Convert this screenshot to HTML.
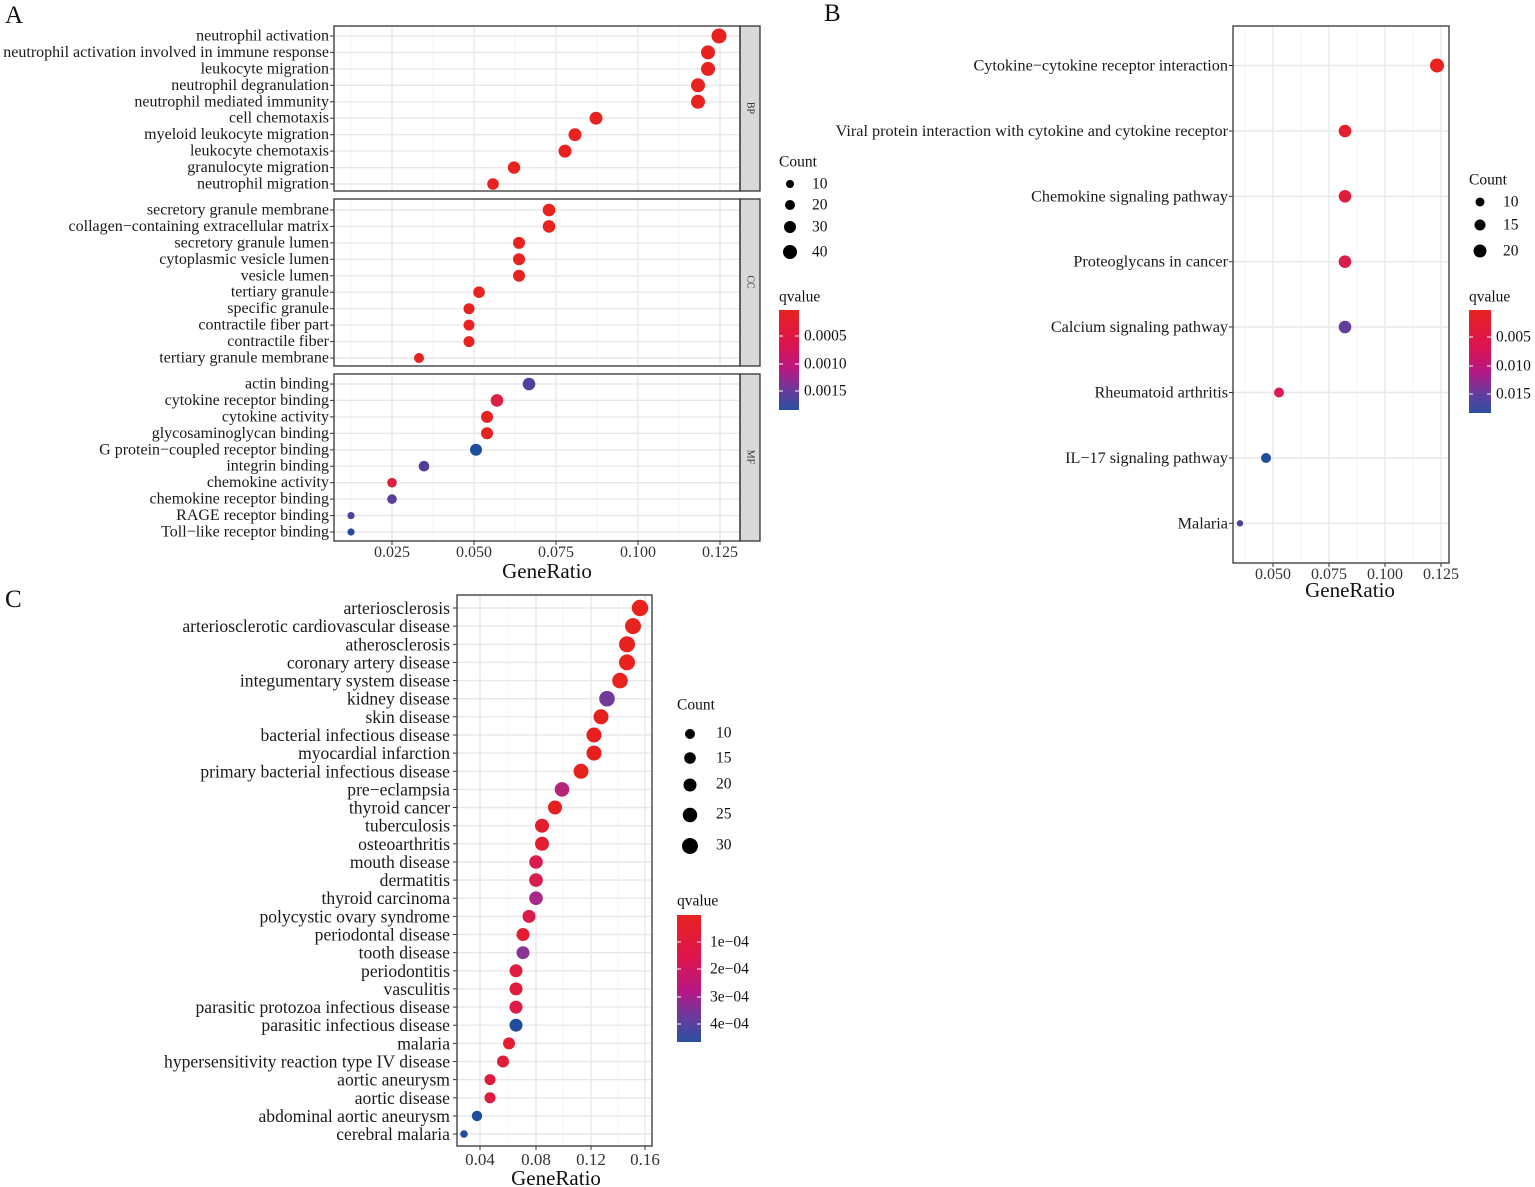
<!DOCTYPE html>
<html><head><meta charset="utf-8"><style>
html,body{margin:0;padding:0;background:#fff}
svg{display:block;font-family:"Liberation Serif","DejaVu Serif",serif}
.l{font-size:16px;text-anchor:end;dominant-baseline:central;fill:#1a1a1a}
.lb{font-size:16.2px;text-anchor:end;dominant-baseline:central;fill:#1a1a1a}
.lc{font-size:17.6px;text-anchor:end;dominant-baseline:central;fill:#1a1a1a}
.t{font-size:16px;text-anchor:middle;fill:#333}
.ti{font-size:21px;text-anchor:middle;fill:#111}
.lg{font-size:15.5px;fill:#111;dominant-baseline:central}
.pn{font-size:25px;fill:#111}
.gM{stroke:#e8e8e8;stroke-width:1.4}
.gm{stroke:#f3f3f3;stroke-width:0.8}
.bx{fill:none;stroke:#333;stroke-width:1.3}
.tk{stroke:#333;stroke-width:1}
</style></head><body>
<svg width="1535" height="1187" viewBox="0 0 1535 1187" xmlns="http://www.w3.org/2000/svg">
<defs>
<linearGradient id="qg" x1="0" y1="0" x2="0" y2="1">
<stop offset="0" stop-color="#e8221f"/><stop offset="0.35" stop-color="#dc1450"/><stop offset="0.6" stop-color="#b51884"/><stop offset="0.8" stop-color="#6a3a9c"/><stop offset="1" stop-color="#2a50a0"/>
</linearGradient>
</defs>
<text class="pn" x="5" y="23">A</text>
<text class="pn" x="824" y="21">B</text>
<text class="pn" x="5" y="607">C</text>

<!-- ========== PANEL A ========== -->
<g>
<g class="gm">
<line x1="351" y1="26" x2="351" y2="541"/><line x1="433" y1="26" x2="433" y2="541"/><line x1="515" y1="26" x2="515" y2="541"/><line x1="597" y1="26" x2="597" y2="541"/><line x1="679" y1="26" x2="679" y2="541"/>
</g>
<g class="gM">
<line x1="392" y1="26" x2="392" y2="541"/><line x1="474" y1="26" x2="474" y2="541"/><line x1="556" y1="26" x2="556" y2="541"/><line x1="638" y1="26" x2="638" y2="541"/><line x1="720" y1="26" x2="720" y2="541"/>
<line x1="334" y1="36" x2="740" y2="36"/><line x1="334" y1="52.4" x2="740" y2="52.4"/><line x1="334" y1="68.9" x2="740" y2="68.9"/><line x1="334" y1="85.3" x2="740" y2="85.3"/><line x1="334" y1="101.8" x2="740" y2="101.8"/><line x1="334" y1="118.2" x2="740" y2="118.2"/><line x1="334" y1="134.7" x2="740" y2="134.7"/><line x1="334" y1="151.1" x2="740" y2="151.1"/><line x1="334" y1="167.6" x2="740" y2="167.6"/><line x1="334" y1="184" x2="740" y2="184"/>
<line x1="334" y1="210" x2="740" y2="210"/><line x1="334" y1="226.4" x2="740" y2="226.4"/><line x1="334" y1="242.9" x2="740" y2="242.9"/><line x1="334" y1="259.3" x2="740" y2="259.3"/><line x1="334" y1="275.8" x2="740" y2="275.8"/><line x1="334" y1="292.2" x2="740" y2="292.2"/><line x1="334" y1="308.7" x2="740" y2="308.7"/><line x1="334" y1="325.1" x2="740" y2="325.1"/><line x1="334" y1="341.6" x2="740" y2="341.6"/><line x1="334" y1="358" x2="740" y2="358"/>
<line x1="334" y1="384" x2="740" y2="384"/><line x1="334" y1="400.4" x2="740" y2="400.4"/><line x1="334" y1="416.9" x2="740" y2="416.9"/><line x1="334" y1="433.3" x2="740" y2="433.3"/><line x1="334" y1="449.8" x2="740" y2="449.8"/><line x1="334" y1="466.2" x2="740" y2="466.2"/><line x1="334" y1="482.7" x2="740" y2="482.7"/><line x1="334" y1="499.1" x2="740" y2="499.1"/><line x1="334" y1="515.6" x2="740" y2="515.6"/><line x1="334" y1="532" x2="740" y2="532"/>
</g>
<rect x="334" y="191" width="426" height="8" fill="#fff"/>
<rect x="334" y="366" width="426" height="8" fill="#fff"/>
<rect x="740" y="26" width="20" height="165" fill="#d9d9d9" stroke="#333" stroke-width="1.3"/>
<rect x="740" y="199" width="20" height="167" fill="#d9d9d9" stroke="#333" stroke-width="1.3"/>
<rect x="740" y="374" width="20" height="167" fill="#d9d9d9" stroke="#333" stroke-width="1.3"/>
<text x="750" y="108" font-size="10" transform="rotate(90 750 108)" text-anchor="middle" dominant-baseline="central" fill="#333">BP</text>
<text x="750" y="282" font-size="10" transform="rotate(90 750 282)" text-anchor="middle" dominant-baseline="central" fill="#333">CC</text>
<text x="750" y="457" font-size="10" transform="rotate(90 750 457)" text-anchor="middle" dominant-baseline="central" fill="#333">MF</text>
<rect class="bx" x="334" y="26" width="406" height="165"/>
<rect class="bx" x="334" y="199" width="406" height="167"/>
<rect class="bx" x="334" y="374" width="406" height="167"/>
<g fill="#e8221f">
<circle cx="719" cy="36" r="7.5"/><circle cx="708" cy="52.4" r="7"/><circle cx="708" cy="68.9" r="7"/><circle cx="698" cy="85.3" r="7"/><circle cx="698" cy="101.8" r="7"/><circle cx="596" cy="118.2" r="6.5"/><circle cx="575" cy="134.7" r="6.5"/><circle cx="565" cy="151.1" r="6.5"/><circle cx="514" cy="167.6" r="6.2"/><circle cx="493" cy="184" r="5.8"/>
<circle cx="549" cy="210" r="6.3"/><circle cx="549" cy="226.4" r="6.3"/><circle cx="519" cy="242.9" r="6"/><circle cx="519" cy="259.3" r="6"/><circle cx="519" cy="275.8" r="6"/><circle cx="479" cy="292.2" r="5.8"/><circle cx="469" cy="308.7" r="5.5"/><circle cx="469" cy="325.1" r="5.5"/><circle cx="469" cy="341.6" r="5.5"/><circle cx="419" cy="358" r="5"/>
<circle cx="487" cy="416.9" r="6"/><circle cx="487" cy="433.3" r="6"/>
</g>
<circle cx="529" cy="384" r="6.3" fill="#523f9b"/>
<circle cx="497" cy="400.4" r="6.3" fill="#dd1f48"/>
<circle cx="476" cy="449.8" r="6" fill="#1f4d9e"/>
<circle cx="424" cy="466.2" r="5.3" fill="#523f9b"/>
<circle cx="392" cy="482.7" r="4.8" fill="#e01f40"/>
<circle cx="392" cy="499.1" r="4.8" fill="#583f9a"/>
<circle cx="351" cy="515.6" r="3.6" fill="#553f9b"/>
<circle cx="351" cy="532" r="3.6" fill="#2649a0"/>
<g class="tk">
<line x1="330" y1="36" x2="334" y2="36"/><line x1="330" y1="52.4" x2="334" y2="52.4"/><line x1="330" y1="68.9" x2="334" y2="68.9"/><line x1="330" y1="85.3" x2="334" y2="85.3"/><line x1="330" y1="101.8" x2="334" y2="101.8"/><line x1="330" y1="118.2" x2="334" y2="118.2"/><line x1="330" y1="134.7" x2="334" y2="134.7"/><line x1="330" y1="151.1" x2="334" y2="151.1"/><line x1="330" y1="167.6" x2="334" y2="167.6"/><line x1="330" y1="184" x2="334" y2="184"/>
<line x1="330" y1="210" x2="334" y2="210"/><line x1="330" y1="226.4" x2="334" y2="226.4"/><line x1="330" y1="242.9" x2="334" y2="242.9"/><line x1="330" y1="259.3" x2="334" y2="259.3"/><line x1="330" y1="275.8" x2="334" y2="275.8"/><line x1="330" y1="292.2" x2="334" y2="292.2"/><line x1="330" y1="308.7" x2="334" y2="308.7"/><line x1="330" y1="325.1" x2="334" y2="325.1"/><line x1="330" y1="341.6" x2="334" y2="341.6"/><line x1="330" y1="358" x2="334" y2="358"/>
<line x1="330" y1="384" x2="334" y2="384"/><line x1="330" y1="400.4" x2="334" y2="400.4"/><line x1="330" y1="416.9" x2="334" y2="416.9"/><line x1="330" y1="433.3" x2="334" y2="433.3"/><line x1="330" y1="449.8" x2="334" y2="449.8"/><line x1="330" y1="466.2" x2="334" y2="466.2"/><line x1="330" y1="482.7" x2="334" y2="482.7"/><line x1="330" y1="499.1" x2="334" y2="499.1"/><line x1="330" y1="515.6" x2="334" y2="515.6"/><line x1="330" y1="532" x2="334" y2="532"/>
<line x1="392" y1="541" x2="392" y2="545"/><line x1="474" y1="541" x2="474" y2="545"/><line x1="556" y1="541" x2="556" y2="545"/><line x1="638" y1="541" x2="638" y2="545"/><line x1="720" y1="541" x2="720" y2="545"/>
</g>
<text class="l" x="329" y="36">neutrophil activation</text>
<text class="l" x="329" y="52.4">neutrophil activation involved in immune response</text>
<text class="l" x="329" y="68.9">leukocyte migration</text>
<text class="l" x="329" y="85.3">neutrophil degranulation</text>
<text class="l" x="329" y="101.8">neutrophil mediated immunity</text>
<text class="l" x="329" y="118.2">cell chemotaxis</text>
<text class="l" x="329" y="134.7">myeloid leukocyte migration</text>
<text class="l" x="329" y="151.1">leukocyte chemotaxis</text>
<text class="l" x="329" y="167.6">granulocyte migration</text>
<text class="l" x="329" y="184">neutrophil migration</text>
<text class="l" x="329" y="210">secretory granule membrane</text>
<text class="l" x="329" y="226.4">collagen−containing extracellular matrix</text>
<text class="l" x="329" y="242.9">secretory granule lumen</text>
<text class="l" x="329" y="259.3">cytoplasmic vesicle lumen</text>
<text class="l" x="329" y="275.8">vesicle lumen</text>
<text class="l" x="329" y="292.2">tertiary granule</text>
<text class="l" x="329" y="308.7">specific granule</text>
<text class="l" x="329" y="325.1">contractile fiber part</text>
<text class="l" x="329" y="341.6">contractile fiber</text>
<text class="l" x="329" y="358">tertiary granule membrane</text>
<text class="l" x="329" y="384">actin binding</text>
<text class="l" x="329" y="400.4">cytokine receptor binding</text>
<text class="l" x="329" y="416.9">cytokine activity</text>
<text class="l" x="329" y="433.3">glycosaminoglycan binding</text>
<text class="l" x="329" y="449.8">G protein−coupled receptor binding</text>
<text class="l" x="329" y="466.2">integrin binding</text>
<text class="l" x="329" y="482.7">chemokine activity</text>
<text class="l" x="329" y="499.1">chemokine receptor binding</text>
<text class="l" x="329" y="515.6">RAGE receptor binding</text>
<text class="l" x="329" y="532">Toll−like receptor binding</text>
<text class="t" x="392" y="557">0.025</text><text class="t" x="474" y="557">0.050</text><text class="t" x="556" y="557">0.075</text><text class="t" x="638" y="557">0.100</text><text class="t" x="720" y="557">0.125</text>
<text class="ti" x="547" y="578">GeneRatio</text>
<text class="lg" x="779" y="162">Count</text>
<circle cx="790" cy="184" r="4" fill="#000"/><text class="lg" x="812" y="184">10</text>
<circle cx="790" cy="205" r="5" fill="#000"/><text class="lg" x="812" y="205">20</text>
<circle cx="790" cy="227" r="6" fill="#000"/><text class="lg" x="812" y="227">30</text>
<circle cx="790" cy="252" r="7" fill="#000"/><text class="lg" x="812" y="252">40</text>
<text class="lg" x="779" y="297">qvalue</text>
<rect x="779" y="310" width="20" height="100" fill="url(#qg)"/>
<g stroke="#fff" stroke-width="1"><line x1="779" y1="336" x2="783" y2="336"/><line x1="795" y1="336" x2="799" y2="336"/><line x1="779" y1="364" x2="783" y2="364"/><line x1="795" y1="364" x2="799" y2="364"/><line x1="779" y1="391" x2="783" y2="391"/><line x1="795" y1="391" x2="799" y2="391"/></g>
<text class="lg" x="804" y="336">0.0005</text><text class="lg" x="804" y="364">0.0010</text><text class="lg" x="804" y="391">0.0015</text>
</g>

<!-- ========== PANEL B ========== -->
<g>
<g class="gm"><line x1="1245" y1="26" x2="1245" y2="563"/><line x1="1301" y1="26" x2="1301" y2="563"/><line x1="1357" y1="26" x2="1357" y2="563"/><line x1="1413" y1="26" x2="1413" y2="563"/></g>
<g class="gM">
<line x1="1273" y1="26" x2="1273" y2="563"/><line x1="1329" y1="26" x2="1329" y2="563"/><line x1="1385" y1="26" x2="1385" y2="563"/><line x1="1441" y1="26" x2="1441" y2="563"/>
<line x1="1233" y1="65.5" x2="1449" y2="65.5"/><line x1="1233" y1="131" x2="1449" y2="131"/><line x1="1233" y1="196.3" x2="1449" y2="196.3"/><line x1="1233" y1="261.7" x2="1449" y2="261.7"/><line x1="1233" y1="327" x2="1449" y2="327"/><line x1="1233" y1="392.5" x2="1449" y2="392.5"/><line x1="1233" y1="458" x2="1449" y2="458"/><line x1="1233" y1="523.3" x2="1449" y2="523.3"/>
</g>
<rect class="bx" x="1233" y="26" width="216" height="537"/>
<circle cx="1437" cy="65.5" r="7" fill="#e8221f"/>
<circle cx="1345" cy="131" r="6.3" fill="#e41e2e"/>
<circle cx="1345" cy="196.3" r="6.3" fill="#e01c3c"/>
<circle cx="1345" cy="261.7" r="6.3" fill="#d81c4c"/>
<circle cx="1345" cy="327" r="6.3" fill="#623d9a"/>
<circle cx="1279" cy="392.5" r="5" fill="#da1c50"/>
<circle cx="1266" cy="458" r="5" fill="#1f4d9e"/>
<circle cx="1240" cy="523.3" r="3.2" fill="#553f9b"/>
<g class="tk">
<line x1="1229" y1="65.5" x2="1233" y2="65.5"/><line x1="1229" y1="131" x2="1233" y2="131"/><line x1="1229" y1="196.3" x2="1233" y2="196.3"/><line x1="1229" y1="261.7" x2="1233" y2="261.7"/><line x1="1229" y1="327" x2="1233" y2="327"/><line x1="1229" y1="392.5" x2="1233" y2="392.5"/><line x1="1229" y1="458" x2="1233" y2="458"/><line x1="1229" y1="523.3" x2="1233" y2="523.3"/>
<line x1="1273" y1="563" x2="1273" y2="567"/><line x1="1329" y1="563" x2="1329" y2="567"/><line x1="1385" y1="563" x2="1385" y2="567"/><line x1="1441" y1="563" x2="1441" y2="567"/>
</g>
<text class="lb" x="1228" y="65.5">Cytokine−cytokine receptor interaction</text>
<text class="lb" x="1228" y="131">Viral protein interaction with cytokine and cytokine receptor</text>
<text class="lb" x="1228" y="196.3">Chemokine signaling pathway</text>
<text class="lb" x="1228" y="261.7">Proteoglycans in cancer</text>
<text class="lb" x="1228" y="327">Calcium signaling pathway</text>
<text class="lb" x="1228" y="392.5">Rheumatoid arthritis</text>
<text class="lb" x="1228" y="458">IL−17 signaling pathway</text>
<text class="lb" x="1228" y="523.3">Malaria</text>
<text class="t" x="1273" y="579">0.050</text><text class="t" x="1329" y="579">0.075</text><text class="t" x="1385" y="579">0.100</text><text class="t" x="1441" y="579">0.125</text>
<text class="ti" x="1350" y="597">GeneRatio</text>
<text class="lg" x="1469" y="180">Count</text>
<circle cx="1480" cy="202" r="4.5" fill="#000"/><text class="lg" x="1503" y="202">10</text>
<circle cx="1480" cy="225" r="5.5" fill="#000"/><text class="lg" x="1503" y="225">15</text>
<circle cx="1480" cy="251" r="6.5" fill="#000"/><text class="lg" x="1503" y="251">20</text>
<text class="lg" x="1469" y="297">qvalue</text>
<rect x="1469" y="310" width="22" height="103" fill="url(#qg)"/>
<g stroke="#fff" stroke-width="1"><line x1="1469" y1="337" x2="1473" y2="337"/><line x1="1487" y1="337" x2="1491" y2="337"/><line x1="1469" y1="366" x2="1473" y2="366"/><line x1="1487" y1="366" x2="1491" y2="366"/><line x1="1469" y1="394" x2="1473" y2="394"/><line x1="1487" y1="394" x2="1491" y2="394"/></g>
<text class="lg" x="1496" y="337">0.005</text><text class="lg" x="1496" y="366">0.010</text><text class="lg" x="1496" y="394">0.015</text>
</g>

<!-- ========== PANEL C ========== -->
<g>
<g class="gm"><line x1="508" y1="595" x2="508" y2="1146"/><line x1="563" y1="595" x2="563" y2="1146"/><line x1="618" y1="595" x2="618" y2="1146"/></g>
<g class="gM">
<line x1="480" y1="595" x2="480" y2="1146"/><line x1="536" y1="595" x2="536" y2="1146"/><line x1="591" y1="595" x2="591" y2="1146"/><line x1="645" y1="595" x2="645" y2="1146"/>
<line x1="457" y1="608" x2="652" y2="608"/><line x1="457" y1="626.1" x2="652" y2="626.1"/><line x1="457" y1="644.3" x2="652" y2="644.3"/><line x1="457" y1="662.4" x2="652" y2="662.4"/><line x1="457" y1="680.6" x2="652" y2="680.6"/><line x1="457" y1="698.7" x2="652" y2="698.7"/><line x1="457" y1="716.8" x2="652" y2="716.8"/><line x1="457" y1="735" x2="652" y2="735"/><line x1="457" y1="753.1" x2="652" y2="753.1"/><line x1="457" y1="771.3" x2="652" y2="771.3"/><line x1="457" y1="789.4" x2="652" y2="789.4"/><line x1="457" y1="807.5" x2="652" y2="807.5"/><line x1="457" y1="825.7" x2="652" y2="825.7"/><line x1="457" y1="843.8" x2="652" y2="843.8"/><line x1="457" y1="862" x2="652" y2="862"/><line x1="457" y1="880.1" x2="652" y2="880.1"/><line x1="457" y1="898.2" x2="652" y2="898.2"/><line x1="457" y1="916.4" x2="652" y2="916.4"/><line x1="457" y1="934.5" x2="652" y2="934.5"/><line x1="457" y1="952.7" x2="652" y2="952.7"/><line x1="457" y1="970.8" x2="652" y2="970.8"/><line x1="457" y1="988.9" x2="652" y2="988.9"/><line x1="457" y1="1007.1" x2="652" y2="1007.1"/><line x1="457" y1="1025.2" x2="652" y2="1025.2"/><line x1="457" y1="1043.4" x2="652" y2="1043.4"/><line x1="457" y1="1061.5" x2="652" y2="1061.5"/><line x1="457" y1="1079.6" x2="652" y2="1079.6"/><line x1="457" y1="1097.8" x2="652" y2="1097.8"/><line x1="457" y1="1115.9" x2="652" y2="1115.9"/><line x1="457" y1="1134" x2="652" y2="1134"/>
</g>
<rect class="bx" x="457" y="595" width="195" height="551"/>
<circle cx="640" cy="608" r="8.2" fill="#e8221f"/>
<circle cx="633" cy="626.1" r="8" fill="#e8221f"/>
<circle cx="627" cy="644.3" r="8" fill="#e8221f"/>
<circle cx="627" cy="662.4" r="8" fill="#e8221f"/>
<circle cx="620" cy="680.6" r="7.8" fill="#e8221f"/>
<circle cx="607" cy="698.7" r="7.8" fill="#703a9a"/>
<circle cx="601" cy="716.8" r="7.5" fill="#e6201f"/>
<circle cx="594" cy="735" r="7.5" fill="#e6201f"/>
<circle cx="594" cy="753.1" r="7.5" fill="#e6201f"/>
<circle cx="581" cy="771.3" r="7.5" fill="#e8221f"/>
<circle cx="562" cy="789.4" r="7.3" fill="#b8237a"/>
<circle cx="555" cy="807.5" r="7" fill="#e6201f"/>
<circle cx="542" cy="825.7" r="7" fill="#e41e2e"/>
<circle cx="542" cy="843.8" r="7" fill="#e41e30"/>
<circle cx="536" cy="862" r="6.8" fill="#d81c50"/>
<circle cx="536" cy="880.1" r="6.8" fill="#d81c50"/>
<circle cx="536" cy="898.2" r="6.8" fill="#a62a8a"/>
<circle cx="529" cy="916.4" r="6.5" fill="#dc1c48"/>
<circle cx="523" cy="934.5" r="6.5" fill="#e41e2e"/>
<circle cx="523" cy="952.7" r="6.5" fill="#8a3496"/>
<circle cx="516" cy="970.8" r="6.5" fill="#e01c3c"/>
<circle cx="516" cy="988.9" r="6.5" fill="#e01c3c"/>
<circle cx="516" cy="1007.1" r="6.5" fill="#dc1c44"/>
<circle cx="516" cy="1025.2" r="6.5" fill="#1f4d9e"/>
<circle cx="509" cy="1043.4" r="6" fill="#e41e30"/>
<circle cx="503" cy="1061.5" r="6" fill="#e01c3c"/>
<circle cx="490" cy="1079.6" r="5.5" fill="#e01c3c"/>
<circle cx="490" cy="1097.8" r="5.5" fill="#e01c3c"/>
<circle cx="477" cy="1115.9" r="5.2" fill="#1f4d9e"/>
<circle cx="464" cy="1134" r="3.8" fill="#1f4d9e"/>
<g class="tk">
<line x1="453" y1="608" x2="457" y2="608"/><line x1="453" y1="626.1" x2="457" y2="626.1"/><line x1="453" y1="644.3" x2="457" y2="644.3"/><line x1="453" y1="662.4" x2="457" y2="662.4"/><line x1="453" y1="680.6" x2="457" y2="680.6"/><line x1="453" y1="698.7" x2="457" y2="698.7"/><line x1="453" y1="716.8" x2="457" y2="716.8"/><line x1="453" y1="735" x2="457" y2="735"/><line x1="453" y1="753.1" x2="457" y2="753.1"/><line x1="453" y1="771.3" x2="457" y2="771.3"/><line x1="453" y1="789.4" x2="457" y2="789.4"/><line x1="453" y1="807.5" x2="457" y2="807.5"/><line x1="453" y1="825.7" x2="457" y2="825.7"/><line x1="453" y1="843.8" x2="457" y2="843.8"/><line x1="453" y1="862" x2="457" y2="862"/><line x1="453" y1="880.1" x2="457" y2="880.1"/><line x1="453" y1="898.2" x2="457" y2="898.2"/><line x1="453" y1="916.4" x2="457" y2="916.4"/><line x1="453" y1="934.5" x2="457" y2="934.5"/><line x1="453" y1="952.7" x2="457" y2="952.7"/><line x1="453" y1="970.8" x2="457" y2="970.8"/><line x1="453" y1="988.9" x2="457" y2="988.9"/><line x1="453" y1="1007.1" x2="457" y2="1007.1"/><line x1="453" y1="1025.2" x2="457" y2="1025.2"/><line x1="453" y1="1043.4" x2="457" y2="1043.4"/><line x1="453" y1="1061.5" x2="457" y2="1061.5"/><line x1="453" y1="1079.6" x2="457" y2="1079.6"/><line x1="453" y1="1097.8" x2="457" y2="1097.8"/><line x1="453" y1="1115.9" x2="457" y2="1115.9"/><line x1="453" y1="1134" x2="457" y2="1134"/>
<line x1="480" y1="1146" x2="480" y2="1150"/><line x1="536" y1="1146" x2="536" y2="1150"/><line x1="591" y1="1146" x2="591" y2="1150"/><line x1="645" y1="1146" x2="645" y2="1150"/>
</g>
<text class="lc" x="450" y="608">arteriosclerosis</text>
<text class="lc" x="450" y="626.1">arteriosclerotic cardiovascular disease</text>
<text class="lc" x="450" y="644.3">atherosclerosis</text>
<text class="lc" x="450" y="662.4">coronary artery disease</text>
<text class="lc" x="450" y="680.6">integumentary system disease</text>
<text class="lc" x="450" y="698.7">kidney disease</text>
<text class="lc" x="450" y="716.8">skin disease</text>
<text class="lc" x="450" y="735">bacterial infectious disease</text>
<text class="lc" x="450" y="753.1">myocardial infarction</text>
<text class="lc" x="450" y="771.3">primary bacterial infectious disease</text>
<text class="lc" x="450" y="789.4">pre−eclampsia</text>
<text class="lc" x="450" y="807.5">thyroid cancer</text>
<text class="lc" x="450" y="825.7">tuberculosis</text>
<text class="lc" x="450" y="843.8">osteoarthritis</text>
<text class="lc" x="450" y="862">mouth disease</text>
<text class="lc" x="450" y="880.1">dermatitis</text>
<text class="lc" x="450" y="898.2">thyroid carcinoma</text>
<text class="lc" x="450" y="916.4">polycystic ovary syndrome</text>
<text class="lc" x="450" y="934.5">periodontal disease</text>
<text class="lc" x="450" y="952.7">tooth disease</text>
<text class="lc" x="450" y="970.8">periodontitis</text>
<text class="lc" x="450" y="988.9">vasculitis</text>
<text class="lc" x="450" y="1007.1">parasitic protozoa infectious disease</text>
<text class="lc" x="450" y="1025.2">parasitic infectious disease</text>
<text class="lc" x="450" y="1043.4">malaria</text>
<text class="lc" x="450" y="1061.5">hypersensitivity reaction type IV disease</text>
<text class="lc" x="450" y="1079.6">aortic aneurysm</text>
<text class="lc" x="450" y="1097.8">aortic disease</text>
<text class="lc" x="450" y="1115.9">abdominal aortic aneurysm</text>
<text class="lc" x="450" y="1134">cerebral malaria</text>
<text class="t" x="480" y="1165" style="font-size:17px">0.04</text><text class="t" x="536" y="1165" style="font-size:17px">0.08</text><text class="t" x="591" y="1165" style="font-size:17px">0.12</text><text class="t" x="645" y="1165" style="font-size:17px">0.16</text>
<text class="ti" x="556" y="1185">GeneRatio</text>
<text class="lg" x="677" y="705">Count</text>
<circle cx="690" cy="734" r="5" fill="#000"/><text class="lg" x="716" y="733">10</text>
<circle cx="690" cy="758" r="5.8" fill="#000"/><text class="lg" x="716" y="758">15</text>
<circle cx="690" cy="785" r="6.5" fill="#000"/><text class="lg" x="716" y="784">20</text>
<circle cx="690" cy="815" r="7.2" fill="#000"/><text class="lg" x="716" y="814">25</text>
<circle cx="690" cy="846" r="8" fill="#000"/><text class="lg" x="716" y="845">30</text>
<text class="lg" x="677" y="901">qvalue</text>
<rect x="677" y="915" width="24" height="127" fill="url(#qg)"/>
<g stroke="#fff" stroke-width="1"><line x1="677" y1="942" x2="681" y2="942"/><line x1="697" y1="942" x2="701" y2="942"/><line x1="677" y1="969" x2="681" y2="969"/><line x1="697" y1="969" x2="701" y2="969"/><line x1="677" y1="997" x2="681" y2="997"/><line x1="697" y1="997" x2="701" y2="997"/><line x1="677" y1="1024" x2="681" y2="1024"/><line x1="697" y1="1024" x2="701" y2="1024"/></g>
<text class="lg" x="710" y="942">1e−04</text><text class="lg" x="710" y="969">2e−04</text><text class="lg" x="710" y="997">3e−04</text><text class="lg" x="710" y="1024">4e−04</text>
</g>
</svg>
</body></html>
